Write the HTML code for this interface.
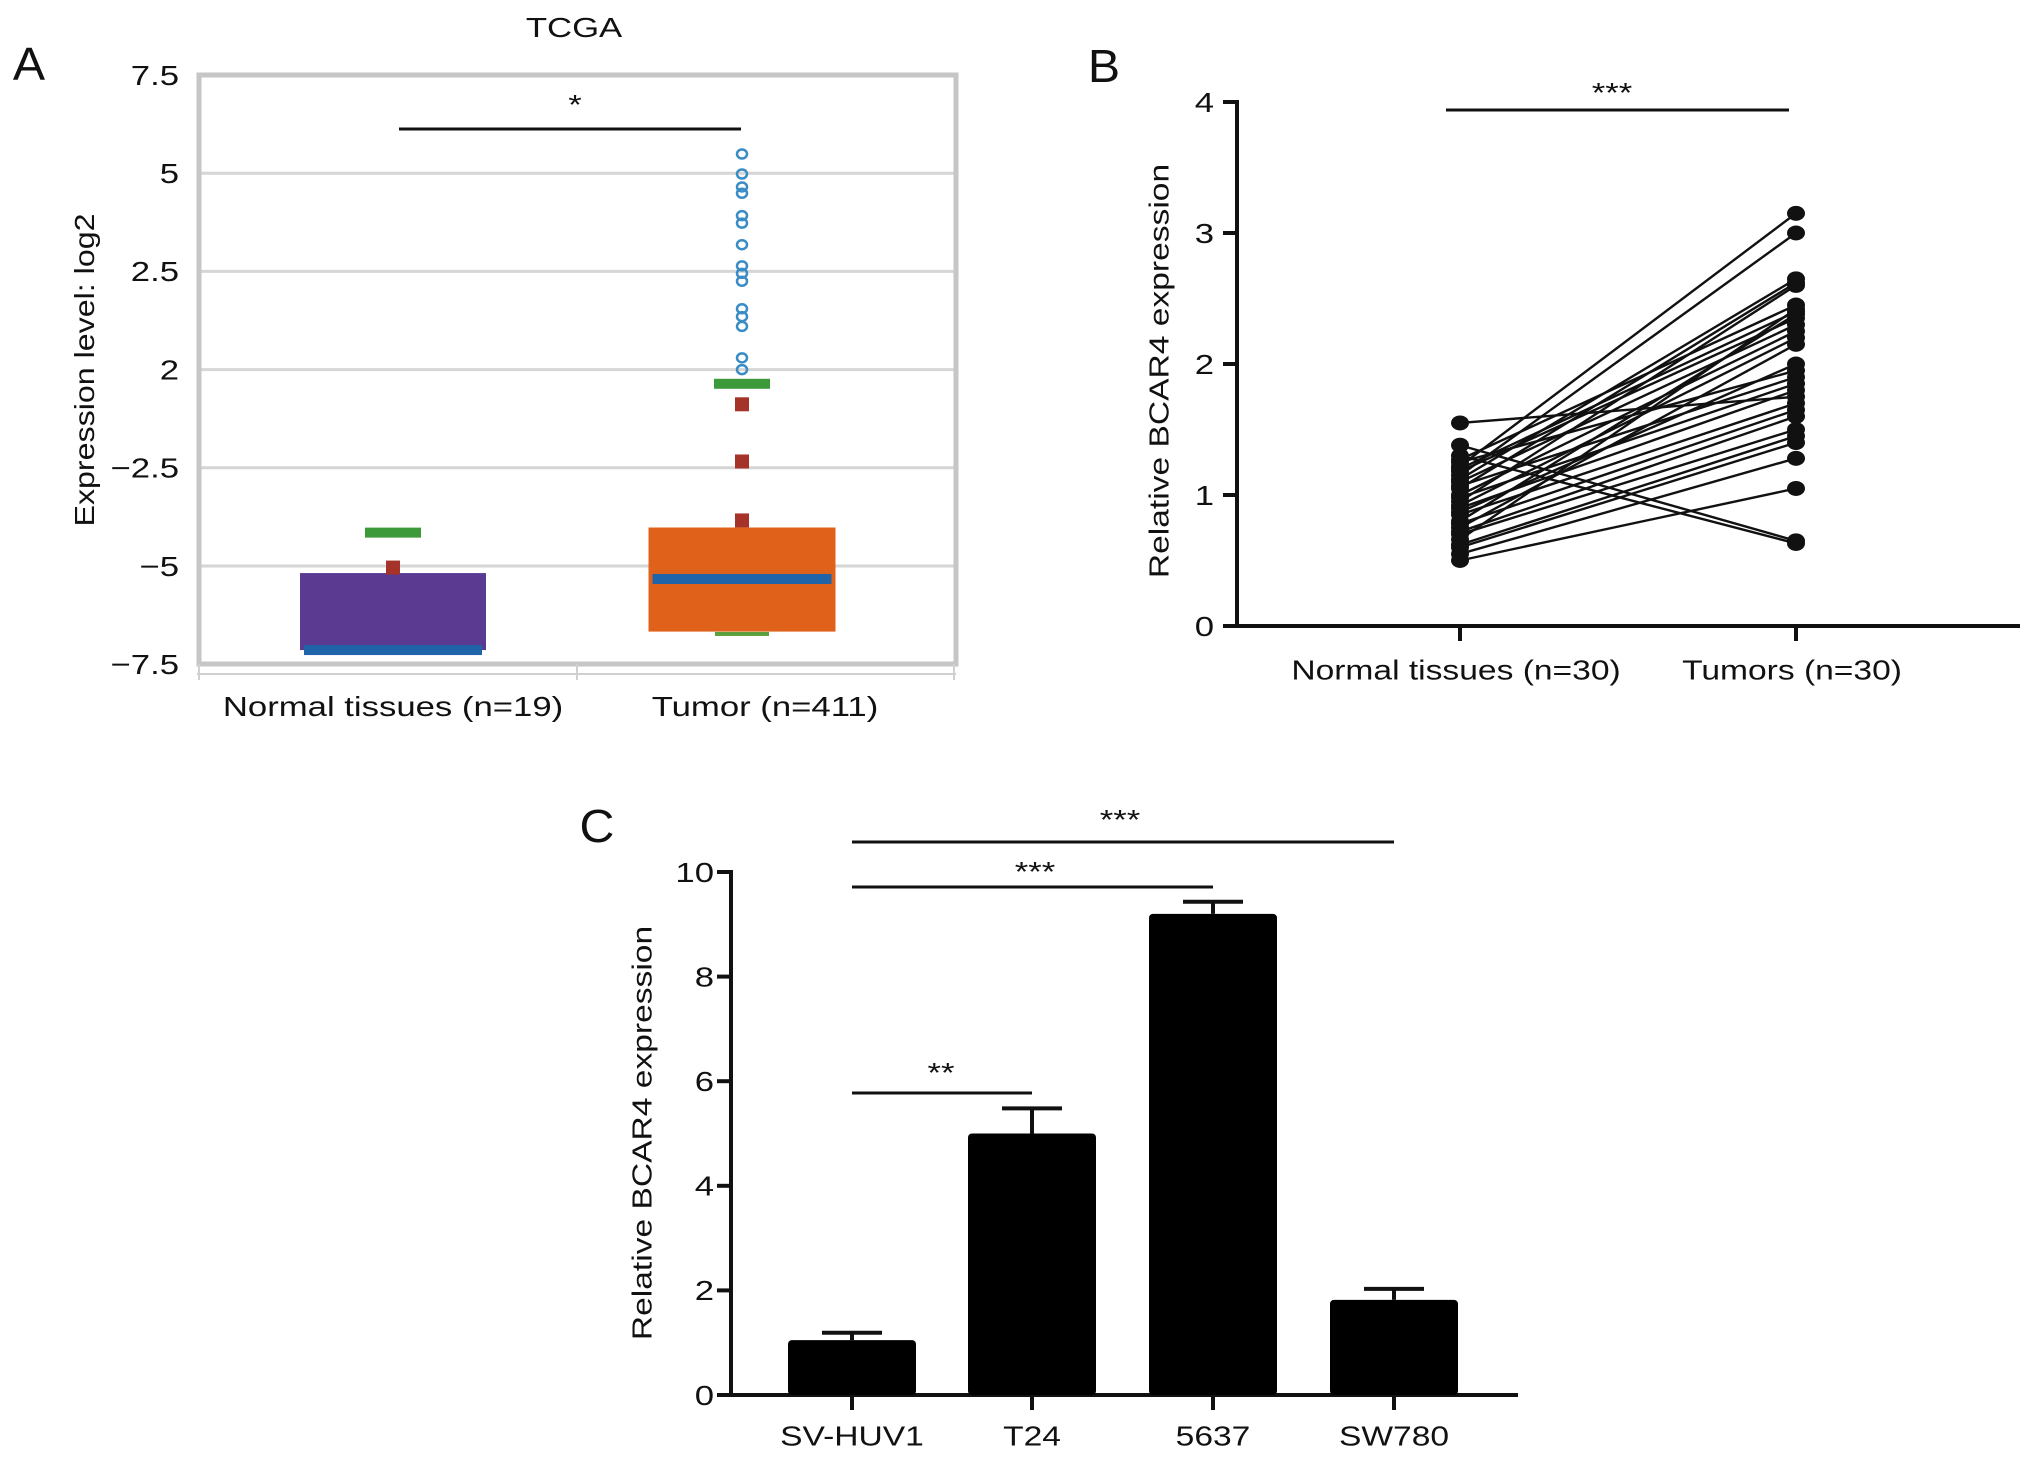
<!DOCTYPE html>
<html><head><meta charset="utf-8">
<style>
html,body{margin:0;padding:0;background:#fff;}
svg{display:block;font-family:"Liberation Sans",Arial,sans-serif;}
</style></head>
<body>
<svg id="fig" width="2032" height="1460" viewBox="0 0 2032 1460" xmlns="http://www.w3.org/2000/svg">
<rect width="2032" height="1460" fill="#fff"/>
</svg>
<script>
// ---------- Panel A data ----------
const aTicks = [7.5, 5, 2.5, 2, -2.5, -5, -7.5];
const aTickLabels = ["7.5", "5", "2.5", "2", "\u22122.5", "\u22125", "\u22127.5"];
const aCategories = ["Normal tissues (n=19)", "Tumor (n=411)"];
const aBoxTop = [-5.18, -4.02];
const aBoxBottom = [-7.14, -6.67];
const aMedian = [-7.14, -5.33];
const aUpperWhisker = [-4.15, 1.35];
const aLowerWhisker = [-7.14, -6.73];
const aRedPoints = [[-5.04], [0.41, -2.21, -3.84]];
const aOutliers = [[], [5.49, 4.98, 4.65, 4.49, 3.92, 3.73, 3.18, 2.64, 2.49, 2.45, 2.31, 2.27, 2.22, 2.06, 2.0]];
// ---------- Panel B data ----------
const bCategories = ["Normal tissues (n=30)", "Tumors (n=30)"];
const bTicks = [0, 1, 2, 3, 4];
const bNormal = [1.55,1.38,1.3,1.27,1.25,1.22,1.2,1.18,1.15,1.12,1.1,1.07,1.05,1.0,0.98,0.95,0.92,0.9,0.87,0.85,0.8,0.78,0.75,0.72,0.7,0.66,0.62,0.6,0.55,0.5];
const bTumor = [1.75,0.65,0.63,2.45,1.95,3.15,2.4,2.35,3.0,2.65,2.3,1.9,2.62,2.25,1.85,2.6,2.2,1.8,2.0,1.7,2.38,1.65,2.15,1.6,1.5,2.42,1.45,1.4,1.28,1.05];
// ---------- Panel C data ----------
const cCategories = ["SV-HUV1", "T24", "5637", "SW780"];
const cValues = [1.05, 5.0, 9.2, 1.82];
const cErrors = [0.14, 0.48, 0.23, 0.21];
const cTicks = [0, 2, 4, 6, 8, 10];

const NS = "http://www.w3.org/2000/svg";
const svg = document.getElementById("fig");
function mk(tag, attrs, parent) {
  const e = document.createElementNS(NS, tag);
  for (const k in attrs) e.setAttribute(k, attrs[k]);
  (parent || svg).appendChild(e);
  return e;
}
function txt(x, y, s, anchor, size, sx, rot) {
  const t = mk("text", {"font-size": size, "text-anchor": anchor, "dominant-baseline": "central",
    transform: "translate(" + x + "," + y + ")" + (rot ? " rotate(" + rot + ")" : "") + " scale(" + sx + ",1)", fill: "#111"});
  t.textContent = s;
  return t;
}
const SX = 1.24;

// ================= Panel A =================
const aTop = 75, aStep = 98.2;
function aY(v) {
  for (let i = 0; i < aTicks.length - 1; i++) {
    const a = aTicks[i], b = aTicks[i + 1];
    if (v <= a && v >= b) return aTop + aStep * (i + (a - v) / (a - b));
  }
  return v > aTicks[0] ? aTop - (v - aTicks[0]) * aStep / 2.5 : aTop + aStep * 6;
}
const aCx = [393, 742];
const aLabelX = [393, 765];
const aBoxW = [186, 187];
let e;
e = txt(29, 64, "A", "middle", 46, 1.05);


e = txt(574, 27, "TCGA", "middle", 28, SX);


for (let i = 0; i < aTicks.length; i++) {
  const y = aY(aTicks[i]);
  if (i > 0 && i < aTicks.length - 1) {
    e = mk("line", {x1: 201, x2: 955, y1: y, y2: y, stroke: "#d6d6d6", "stroke-width": 3});
    
    
  }
  e = txt(179, y, aTickLabels[i], "end", 28, SX);
  
  
}
e = mk("rect", {x: 199, y: 75, width: 757, height: 589, fill: "none", stroke: "#c6c6c6", "stroke-width": 5});


e = mk("line", {x1: 197, x2: 956, y1: 674, y2: 674, stroke: "#d0d0d0", "stroke-width": 2});


[199, 577, 954].forEach(function (x) {
  e = mk("line", {x1: x, x2: x, y1: 664, y2: 680, stroke: "#d0d0d0", "stroke-width": 2});
  
  
});
e = txt(85, 370, "Expression level: log2", "middle", 28, 1.15, -90);


const aFill = ["#5b3a92", "#e0621a"];
for (let i = 0; i < aCategories.length; i++) {
  const cx = aCx[i], w = aBoxW[i];
  e = mk("rect", {x: cx - 27, y: aY(aLowerWhisker[i]) - 2, width: 54, height: 4, fill: "#5aa03e"});
  
  
  e = mk("rect", {x: cx - w / 2, y: aY(aBoxTop[i]), width: w, height: aY(aBoxBottom[i]) - aY(aBoxTop[i]), fill: aFill[i]});
  
  
  e = mk("rect", {x: cx - w / 2 + 4, y: aY(aMedian[i]) - 5, width: w - 8, height: 10, fill: "#1f63a8"});
  
  
  e = mk("rect", {x: cx - 28, y: aY(aUpperWhisker[i]) - 5, width: 56, height: 10, fill: "#3d9a3a"});
  
  
  aRedPoints[i].forEach(function (v) {
    e = mk("rect", {x: cx - 7, y: aY(v) - 7, width: 14, height: 14, fill: "#a5332a"});
    
    
  });
  aOutliers[i].forEach(function (v) {
    e = mk("ellipse", {cx: cx, cy: aY(v), rx: 5, ry: 4.5, fill: "none", stroke: "#3a8cc6", "stroke-width": 2.5});
    
    
  });
  e = txt(aLabelX[i], 706, aCategories[i], "middle", 28, SX);
  
  
}
e = mk("line", {x1: 399, x2: 741, y1: 129, y2: 129, stroke: "#111", "stroke-width": 3});


e = txt(575, 104, "*", "middle", 28, SX);



// ================= Panel B =================
const bX0 = 1237, bY0 = 626, bUnit = 131;
function bY(v) { return bY0 - v * bUnit; }
const bCx = [1460, 1796];
const bLabelX = [1456, 1792];
e = txt(1104, 66, "B", "middle", 46, 1.05);


e = mk("line", {x1: bX0, x2: bX0, y1: bY(4) - 2, y2: bY0 + 2, stroke: "#111", "stroke-width": 4});


e = mk("line", {x1: bX0 - 2, x2: 2020, y1: bY0, y2: bY0, stroke: "#111", "stroke-width": 4});


bTicks.forEach(function (v) {
  e = mk("line", {x1: bX0 - 14, x2: bX0, y1: bY(v), y2: bY(v), stroke: "#111", "stroke-width": 4});
  
  
  e = txt(1214, bY(v), String(v), "end", 28, SX);
  
  
});
for (let i = 0; i < bCategories.length; i++) {
  e = mk("line", {x1: bCx[i], x2: bCx[i], y1: bY0, y2: bY0 + 15, stroke: "#111", "stroke-width": 4});
  
  
  e = txt(bLabelX[i], 670, bCategories[i], "middle", 28, 1.2);
  
  
}
e = txt(1159, 371, "Relative BCAR4 expression", "middle", 28, 1.2, -90);


for (let i = 0; i < bNormal.length; i++) {
  e = mk("line", {x1: bCx[0], y1: bY(bNormal[i]), x2: bCx[1], y2: bY(bTumor[i]), stroke: "#111", "stroke-width": 2.4});
  
  
}
for (let i = 0; i < bNormal.length; i++) {
  e = mk("ellipse", {cx: bCx[0], cy: bY(bNormal[i]), rx: 9, ry: 7.5, fill: "#111"});
  
  
  e = mk("ellipse", {cx: bCx[1], cy: bY(bTumor[i]), rx: 9, ry: 7.5, fill: "#111"});
  
  
}
e = mk("line", {x1: 1446, x2: 1789, y1: 110, y2: 110, stroke: "#111", "stroke-width": 3});


e = txt(1612, 92, "***", "middle", 28, SX);



// ================= Panel C =================
const cX0 = 731, cY0 = 1395, cUnit = 52.3;
function cY(v) { return cY0 - v * cUnit; }
const cCx = [852, 1032, 1213, 1394];
const cBarW = 128;
e = txt(597, 826, "C", "middle", 46, 1.05);


e = mk("line", {x1: cX0, x2: cX0, y1: cY(10) - 2, y2: cY0 + 2, stroke: "#111", "stroke-width": 4});


e = mk("line", {x1: cX0 - 2, x2: 1518, y1: cY0, y2: cY0, stroke: "#111", "stroke-width": 4});


cTicks.forEach(function (v) {
  e = mk("line", {x1: cX0 - 14, x2: cX0, y1: cY(v), y2: cY(v), stroke: "#111", "stroke-width": 4});
  
  
  e = txt(714, cY(v), String(v), "end", 28, SX);
  
  
});
e = txt(642, 1133, "Relative BCAR4 expression", "middle", 28, 1.2, -90);


for (let i = 0; i < cCategories.length; i++) {
  const cx = cCx[i];
  const top = cY(cValues[i] + cErrors[i]);
  e = mk("line", {x1: cx, x2: cx, y1: top, y2: cY(cValues[i]), stroke: "#111", "stroke-width": 4});
  
  
  e = mk("line", {x1: cx - 30, x2: cx + 30, y1: top, y2: top, stroke: "#111", "stroke-width": 4});
  
  
  e = mk("rect", {x: cx - cBarW / 2, y: cY(cValues[i]), width: cBarW, height: cY0 - cY(cValues[i]), rx: 4, fill: "#000"});
  
  
  e = mk("line", {x1: cx, x2: cx, y1: cY0, y2: cY0 + 15, stroke: "#111", "stroke-width": 4});
  
  
  e = txt(cx, 1436, cCategories[i], "middle", 28, 1.2);
  
  
}
e = mk("line", {x1: 852, x2: 1032, y1: 1093, y2: 1093, stroke: "#111", "stroke-width": 3});


e = txt(941, 1072, "**", "middle", 28, SX);


e = mk("line", {x1: 852, x2: 1213, y1: 887, y2: 887, stroke: "#111", "stroke-width": 3});


e = txt(1035, 871, "***", "middle", 28, SX);


e = mk("line", {x1: 852, x2: 1394, y1: 842, y2: 842, stroke: "#111", "stroke-width": 3});


e = txt(1120, 819, "***", "middle", 28, SX);


</script>
</body></html>
